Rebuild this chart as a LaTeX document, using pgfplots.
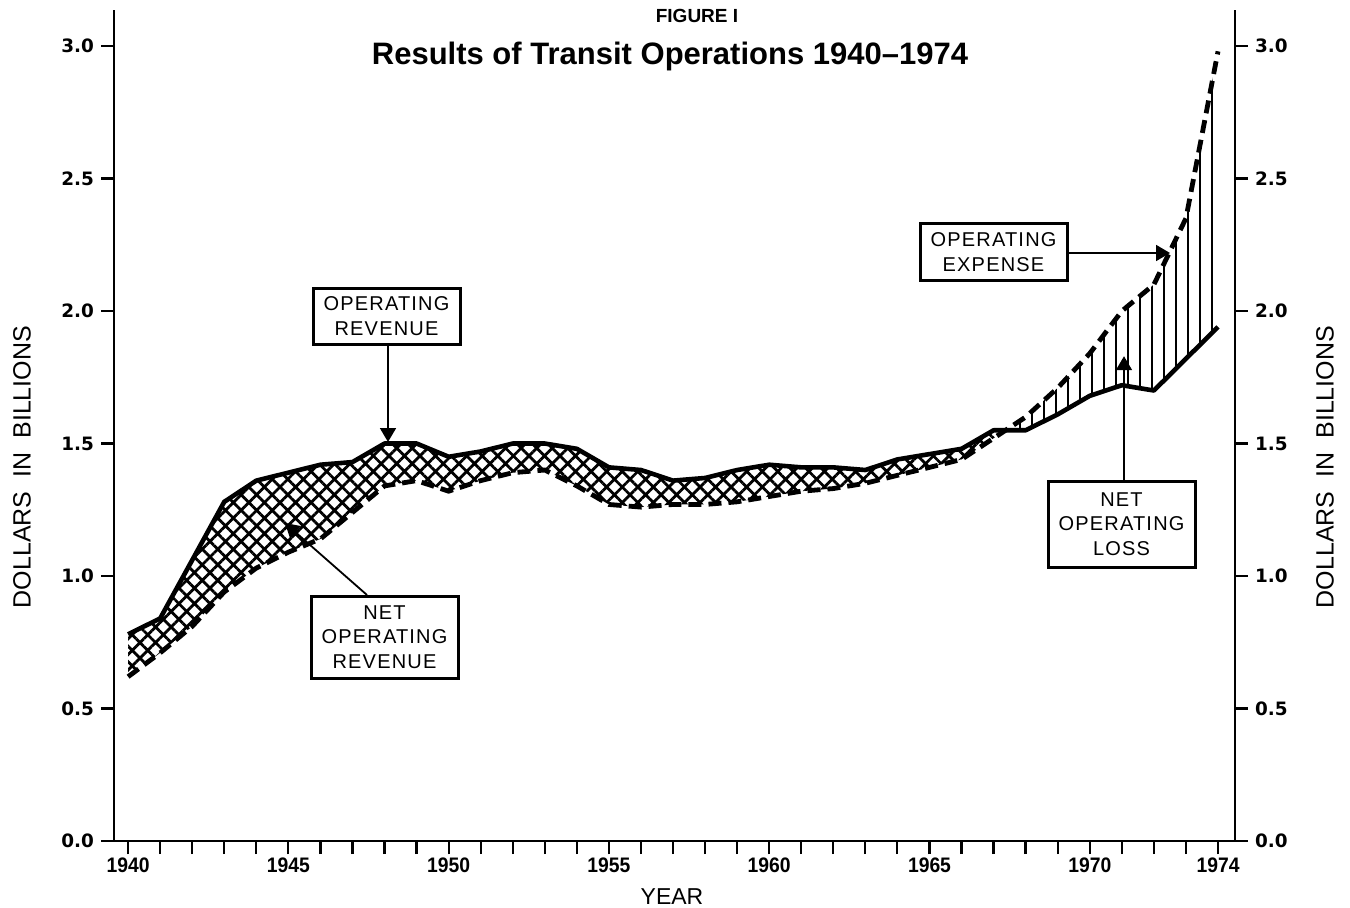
\documentclass[border=0pt]{standalone}
\usepackage{fontspec}
\setmainfont{Liberation Sans}
\newfontfamily\condfont[FakeStretch=0.92]{Liberation Sans}
\newfontfamily\boxfont[LetterSpace=6]{Liberation Sans}
\newfontfamily\tickfont{DejaVu Sans}
\usepackage{pgfplots}
\usepackage{pgfplotstable}
\pgfplotsset{compat=1.18}
\usepgfplotslibrary{fillbetween}
\usetikzlibrary{patterns.meta,arrows.meta}

\pgfplotstableread{
year rev
1940 0.78
1941 0.84
1942 1.06
1943 1.28
1944 1.36
1945 1.39
1946 1.42
1947 1.43
1948 1.50
1949 1.50
1950 1.45
1951 1.47
1952 1.50
1953 1.50
1954 1.48
1955 1.41
1956 1.40
1957 1.36
1958 1.37
1959 1.40
1960 1.42
1961 1.41
1962 1.41
1963 1.40
1964 1.44
1965 1.46
1966 1.48
1967 1.55
1968 1.55
1969 1.61
1970 1.68
1971 1.72
1972 1.70
1973 1.82
1974 1.94
}\revtable

\pgfplotstableread{
year exp
1940 0.62
1941 0.71
1942 0.81
1943 0.94
1944 1.03
1945 1.09
1946 1.14
1947 1.24
1948 1.34
1949 1.36
1950 1.32
1951 1.36
1952 1.39
1953 1.40
1954 1.34
1955 1.27
1956 1.26
1957 1.27
1958 1.27
1959 1.28
1960 1.30
1961 1.32
1962 1.33
1963 1.35
1964 1.38
1965 1.41
1966 1.44
1967 1.52
1968 1.60
1969 1.71
1970 1.84
1971 2.00
1972 2.10
1973 2.35
1974 2.98
}\exptable

\begin{document}
\begin{tikzpicture}
\pgfplotsset{
  common/.style={
    scale only axis, width=560.5pt, height=415.5pt,
    xmin=1939.56, xmax=1974.53, ymin=0, ymax=3.136,
    axis line style={line width=1.1pt},
    tick style={line width=1.1pt, black},
    major tick length=6.5pt, minor tick length=6.5pt,
    tick align=outside,
    ytick={0,0.5,1,1.5,2,2.5,3},
    yticklabel style={font=\tickfont\bfseries\fontsize{9.2}{10}\selectfont},
    y tick label style={/pgf/number format/fixed, /pgf/number format/fixed zerofill, /pgf/number format/precision=1, /pgf/number format/assume math mode=true},
    ylabel={DOLLARS\ \ IN\ \ BILLIONS},
  }
}
\begin{axis}[common,
  axis x line*=bottom, axis y line*=left,
  xtick={1940,1945,1950,1955,1960,1965,1970,1974},
  xticklabels={1940,1945,1950,1955,1960,1965,1970,1974},
  minor xtick={1940,...,1974},
  xticklabel style={font=\condfont\bfseries\fontsize{10.5}{12}\selectfont, yshift=1.5pt},
  xlabel={YEAR},
  xlabel style={at={(axis description cs:0.4978,-0.0674)}, anchor=center, font=\fontsize{11.5}{13}\selectfont},
  ylabel style={at={(axis description cs:-0.0821,0.45)}, anchor=center, font=\fontsize{12.5}{14}\selectfont},
]
\addplot[name path=rev, draw=none, forget plot] table[x=year,y=rev] {\revtable};
\addplot[name path=exp, draw=none, forget plot] table[x=year,y=exp] {\exptable};
\addplot[draw=none] fill between[of=rev and exp, split,
  every segment no 0/.style={pattern={Hatch[angle=45,distance=5.5pt,line width=1.4pt]}},
  every segment no 1/.style={pattern={Lines[angle=90,distance=6pt,line width=1pt]}}];
\addplot[black, line width=2.3pt, line join=round] table[x=year,y=rev] {\revtable};
\addplot[black, line width=2.4pt, dash pattern=on 6.5pt off 3.5pt] table[x=year,y=exp] {\exptable};
\end{axis}
\begin{axis}[common,
  axis x line*=bottom, axis y line*=right, xtick=\empty,
  ylabel style={at={(axis description cs:1.0803,0.45)}, anchor=center, font=\fontsize{12.5}{14}\selectfont},
]
\addplot[draw=none, forget plot] table[x=year,y=rev] {\revtable};
\end{axis}
% titles
\node[font=\bfseries\fontsize{9.5}{11}\selectfont] at (291.5pt,412.4pt) {FIGURE I};
\node[font=\bfseries\fontsize{15.5}{18}\selectfont] at (278pt,392.3pt) {Results of Transit Operations 1940\textendash1974};
% annotation boxes
\tikzset{annot/.style={draw, line width=1.5pt, minimum width=73.5pt, align=center, inner sep=2pt, font=\boxfont\fontsize{10}{12.2}\selectfont, fill=white},
  arr/.style={line width=0.9pt, -{Triangle[length=7pt,width=8pt]}}}
\node[annot, minimum height=28pt] at (136.25pt,262.5pt) {OPERATING\\REVENUE};
\draw[arr] (137pt,248.5pt) -- (137pt,199.5pt);
\node[annot, minimum height=41pt] at (135.25pt,102pt) {NET\\OPERATING\\REVENUE};
\draw[arr] (126.5pt,123pt) -- (85.5pt,159pt);
\node[annot, minimum height=28.4pt] at (439.75pt,294.4pt) {OPERATING\\EXPENSE};
\draw[arr] (476.5pt,294pt) -- (528pt,294pt);
\node[annot, minimum height=43pt] at (503.75pt,158.4pt) {NET\\OPERATING\\LOSS};
\draw[arr] (505pt,179.9pt) -- (505pt,242.4pt);
\pgfresetboundingbox
\useasboundingbox (-57pt,-33pt) rectangle (618pt,420.5pt);
\end{tikzpicture}
\end{document}
